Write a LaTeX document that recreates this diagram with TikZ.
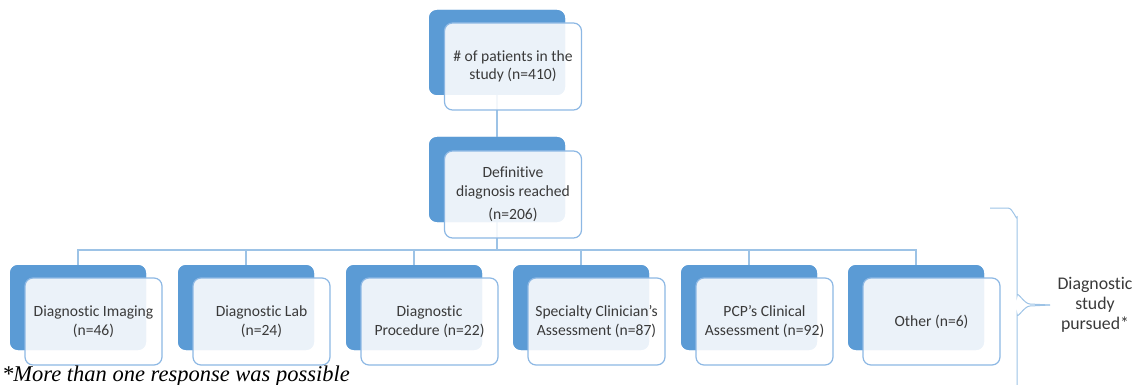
\documentclass[tikz,border=0pt]{standalone}
\usepackage{fontspec}
\setmainfont{Carlito}[Ligatures=NoCommon]
\newfontfamily\notefont{Liberation Serif}
\definecolor{backblue}{HTML}{5B9BD5}
\definecolor{edgeblue}{HTML}{8DB8E4}
\definecolor{lineblue}{HTML}{9DC3E6}
\definecolor{txt}{HTML}{3A3A3A}
\begin{document}
\begin{tikzpicture}[x=1pt,y=-1pt,
  backbox/.style={draw=none,fill=backblue,rounded corners=8pt,minimum width=136pt,minimum height=85pt,inner sep=0pt},
  frontbox/.style={draw=edgeblue,line width=1.2pt,fill=white,fill opacity=0.88,text opacity=1,rounded corners=8pt,minimum width=137pt,minimum height=87pt,inner sep=0pt,align=center,text=txt,font=\fontsize{15.6}{18.5}\selectfont},
  conn/.style={draw=lineblue,line width=1.4pt},
  brace/.style={draw=lineblue,line width=1pt}]
\useasboundingbox (0,0) rectangle (1135,385);
% back boxes
\node[backbox] (tb) at (497,52.5) {};
\node[backbox] (mb) at (497,179.5) {};
\foreach \i/\x in {1/78,2/246,3/414,4/581,5/749,6/916}{
  \node[backbox] (b\i) at (\x,307.5) {};
}
% connectors
\coordinate (hm) at (497,250);
\draw[conn] (tb.center) -- (mb.center);
\draw[conn] (mb.center) -- (hm);
\draw[conn] (b1.center) |- (hm) -| (b6.center);
\foreach \i in {2,3,4,5}{ \draw[conn] (b\i.center) -- (b\i.center |- hm); }
% redraw back boxes over connectors
\node[backbox] at (tb) {};
\node[backbox] at (mb) {};
\foreach \i in {1,...,6}{ \node[backbox] at (b\i) {}; }
% front boxes
\node[frontbox] (tf) at (513,66.5) {\# of patients in the\\study (n=410)};
\node[frontbox] (mf) at (513,194.5) {Definitive\\diagnosis reached\\[5pt](n=206)};
\node[frontbox] (f1) at (93.5,321.5) {Diagnostic Imaging\\(n=46)};
\node[frontbox] (f2) at (261.5,321.5) {Diagnostic Lab\\(n=24)};
\node[frontbox] (f3) at (429.5,321.5) {Diagnostic\\Procedure (n=22)};
\node[frontbox] (f4) at (596.5,321.5) {Specialty Clinician’s\\Assessment (n=87)};
\node[frontbox] (f5) at (764.5,321.5) {PCP’s Clinical\\Assessment (n=92)};
\node[frontbox] (f6) at (931.5,321.5) {Other (n=6)};
% brace
\coordinate (bt) at (990,208);
\coordinate (btip) at (1050,305);
\coordinate (bbot) at (1017,385);
\draw[brace] (bt) -- (1008,208) to[out=0,in=-90] (1017,217) -- (1017,296) to[out=90,in=180] (1030,304) -- (btip);
\draw[brace] (btip) -- (1030,306) to[out=180,in=-90] (1017,314) -- (bbot);
\node[text=txt,align=center,inner sep=0pt,font=\fontsize{17.8}{20}\selectfont] (lbl) at (1095,305) {Diagnostic\\study\\pursued*};
% footnote
\node[anchor=base west,inner sep=0pt,font=\notefont\itshape\fontsize{22.5}{24}\selectfont] (note) at (2,381) {*More than one response was possible};
\end{tikzpicture}
\end{document}
